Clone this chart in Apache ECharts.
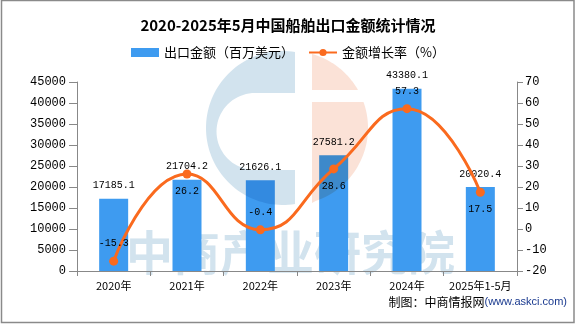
<!DOCTYPE html>
<html>
<head>
<meta charset="utf-8">
<script src="https://cdn.jsdelivr.net/npm/echarts@6/dist/echarts.min.js"></script>
<style>
  html, body { margin: 0; padding: 0; background: #fff; }
  #chart { width: 576px; height: 324px; }
</style>
</head>
<body>
<div id="chart"></div>
<script>
// Ship export value (million USD) and year-on-year growth (%)
const categories = ['2020年', '2021年', '2022年', '2023年', '2024年', '2025年1-5月'];
const exportValue = [17185.1, 21704.2, 21626.1, 27581.2, 43380.1, 20020.4];
const growthRate = [-15.3, 26.2, -0.4, 28.6, 57.3, 17.5];
const leftTicks = { min: 0, max: 45000, interval: 5000 };
const rightTicks = { min: -20, max: 70, interval: 10 };

// where each growth label sits relative to its point
const growthLabelSide = ['top', 'bottom', 'top', 'bottom', 'top', 'bottom'];

const numFont = 'Liberation Mono';
const cjkFont = 'Noto Sans CJK SC';

// brand mark: half ring on the left, split half disc on the right
function arcPts(cx, cy, r, a0, a1, n) {
  const pts = [];
  for (let i = 0; i <= n; i++) {
    const a = a0 + (a1 - a0) * i / n;
    pts.push([cx + r * Math.cos(a), cy + r * Math.sin(a)]);
  }
  return pts;
}
function leftMark() {
  const cx = 283, cy = 128, r = 77, edge = 295;
  const dy = Math.sqrt(r * r - (edge - cx) * (edge - cx));
  const aTop = Math.atan2(-dy, edge - cx);
  const aBot = Math.atan2(dy, edge - cx);
  // outer arc from top going round the left side to the bottom
  let pts = arcPts(cx, cy, r, aTop, aBot - 2 * Math.PI, 80);
  pts = pts.concat([[edge, 170], [255, 170]]);
  // inner cut: round end on the left
  pts = pts.concat(arcPts(255, 131.5, 38.5, Math.PI / 2, 3 * Math.PI / 2, 40));
  pts.push([edge, 93]);
  return pts;
}
function rightMark(yFrom, yTo) {
  const cx = 291, cy = 128, r = 77, left = 312;
  const pts = [];
  const n = 50;
  for (let i = 0; i <= n; i++) {
    const y = yFrom + (yTo - yFrom) * i / n;
    const dy = y - cy;
    const w = Math.sqrt(Math.max(0, r * r - dy * dy));
    pts.push([Math.max(left, cx + w), y]);
  }
  pts.push([left, yTo]);
  pts.push([left, yFrom]);
  return pts;
}

const chart = echarts.init(document.getElementById('chart'), null, { renderer: 'canvas' });

chart.setOption({
  backgroundColor: '#ffffff',
  animation: false,
  title: {
    text: '2020-2025年5月中国船舶出口金额统计情况',
    left: 'center',
    top: 13,
    textStyle: { fontFamily: cjkFont, fontSize: 15, fontWeight: 'bold', color: '#000' }
  },
  legend: {
    top: 41,
    left: 'center',
    itemGap: 14,
    itemWidth: 28,
    itemHeight: 9,
    textStyle: { fontFamily: cjkFont, fontSize: 13, color: '#000' },
    data: [
      { name: '出口金额（百万美元）', icon: 'rect' },
      { name: '金额增长率（%）' }
    ]
  },
  grid: { left: 77, right: 59, top: 82, bottom: 53 },
  xAxis: {
    type: 'category',
    data: categories,
    axisLine: { lineStyle: { color: '#888', width: 1 } },
    axisTick: { show: true, length: 5, lineStyle: { color: '#888' } },
    axisLabel: { interval: 0, margin: 9, color: '#000', fontSize: 11, fontFamily: cjkFont }
  },
  yAxis: [
    {
      type: 'value',
      min: leftTicks.min, max: leftTicks.max, interval: leftTicks.interval,
      axisLine: { show: true, lineStyle: { color: '#888' } },
      axisTick: { show: true, length: 8, lineStyle: { color: '#888' } },
      splitLine: { show: false },
      axisLabel: { margin: 11, color: '#000', fontSize: 12, fontFamily: numFont, formatter: v => String(v) }
    },
    {
      type: 'value',
      position: 'right',
      min: rightTicks.min, max: rightTicks.max, interval: rightTicks.interval,
      axisLine: { show: true, lineStyle: { color: '#888' } },
      axisTick: { show: true, length: 6, lineStyle: { color: '#888' } },
      splitLine: { show: false },
      axisLabel: { margin: 8, color: '#000', fontSize: 12, fontFamily: numFont, formatter: v => String(v) }
    }
  ],
  series: [
    {
      name: '出口金额（百万美元）',
      type: 'bar',
      yAxisIndex: 0,
      z: 1,
      barWidth: 29,
      data: exportValue,
      itemStyle: { color: '#3e9bf0' },
      label: {
        show: true,
        position: 'top',
        distance: 8,
        color: '#000',
        fontSize: 10,
        fontFamily: numFont,
        formatter: p => p.value.toFixed(1)
      }
    },
    {
      name: '金额增长率（%）',
      type: 'line',
      yAxisIndex: 1,
      z: 3,
      smooth: true,
      symbol: 'circle',
      symbolSize: 9,
      data: growthRate.map((v, i) => ({ value: v, label: { position: growthLabelSide[i] } })),
      lineStyle: { color: '#fa6a1e', width: 3 },
      itemStyle: { color: '#fa6a1e' },
      label: {
        show: true,
        distance: 8,
        color: '#000',
        fontSize: 10,
        fontFamily: numFont,
        formatter: p => p.value.toFixed(1)
      }
    }
  ],
  graphic: [
    {
      type: 'text',
      z: 0,
      left: 126,
      top: 229,
      style: {
        text: '中商产业研究院',
        fontFamily: cjkFont,
        fontSize: 47,
        fontWeight: 'bold',
        fill: '#d2e3ee'
      }
    },
    {
      type: 'polygon',
      z: 2,
      shape: { points: leftMark() },
      style: { fill: '#d2e3ee', blend: 'multiply' }
    },
    {
      type: 'polygon',
      z: 2,
      shape: { points: rightMark(54, 90) },
      style: { fill: '#fbe2d7', blend: 'multiply' }
    },
    {
      type: 'polygon',
      z: 2,
      shape: { points: rightMark(102, 203) },
      style: { fill: '#fbe2d7', blend: 'multiply' }
    },
    {
      type: 'text',
      z: 5,
      right: 9,
      top: 296,
      style: {
        text: '{a|制图：中商情报网}{b|(www.askci.com)}',
        rich: {
          a: { fontFamily: cjkFont, fontSize: 12, fill: '#000' },
          b: { fontFamily: 'Liberation Sans', fontSize: 11, fill: '#1a3a8f' }
        }
      }
    },
    {
      type: 'rect',
      z: 10,
      silent: true,
      shape: { x: 1.5, y: 0.5, width: 572.5, height: 322 },
      style: { fill: 'none', stroke: '#8a8a8a', lineWidth: 1.5 }
    }
  ]
});
</script>
</body>
</html>
